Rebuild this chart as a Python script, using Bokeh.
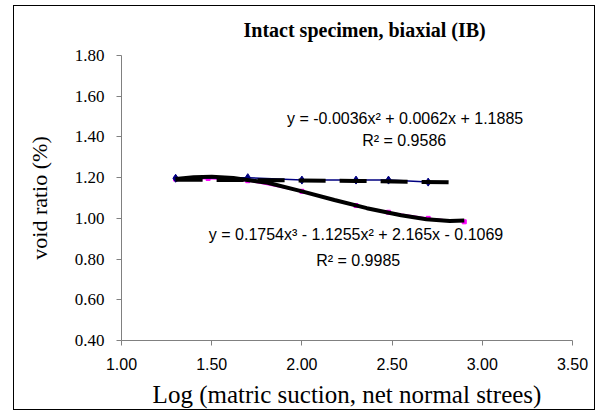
import math
from bokeh.plotting import figure
from bokeh.models import Range1d, FixedTicker, NumeralTickFormatter, Label
from bokeh.embed import file_html
from bokeh.resources import INLINE

# ---- data ----
x_ticks = [1.00, 1.50, 2.00, 2.50, 3.00, 3.50]
y_ticks = [0.40, 0.60, 0.80, 1.00, 1.20, 1.40, 1.60, 1.80]

ib_biaxial_x = [1.30, 1.70, 2.00, 2.30, 2.48, 2.70]
ib_biaxial_y = [1.197, 1.200, 1.188, 1.188, 1.188, 1.178]

trend_quad_x = [1.30, 1.70, 2.00, 2.30, 2.60, 2.88]
trend_quad_y = [1.190, 1.188, 1.186, 1.184, 1.180, 1.176]

ib_second_x = [1.30, 1.48, 1.70, 2.00, 2.30, 2.48, 2.70, 2.90]
ib_second_y = [1.193, 1.196, 1.185, 1.133, 1.063, 1.030, 1.000, 0.983]

trend_cubic_x = [1.30, 1.40, 1.50, 1.62, 1.81, 1.99, 2.18, 2.36, 2.55, 2.69, 2.82, 2.90]
trend_cubic_y = [1.193, 1.202, 1.205, 1.198, 1.175, 1.135, 1.090, 1.050, 1.015, 0.996, 0.987, 0.990]

title_text = "Intact specimen, biaxial (IB)"
eq1_text = "y = -0.0036x² + 0.0062x + 1.1885"
r1_text = "R² = 0.9586"
eq2_text = "y = 0.1754x³ - 1.1255x² + 2.165x - 0.1069"
r2_text = "R² = 0.9985"
x_title = "Log (matric suction, net normal strees)"
y_title = "void ratio (%)"

p = figure(width=582, height=405, output_backend="svg", toolbar_location=None,
           x_range=Range1d(1.0, 3.5), y_range=Range1d(0.4, 1.8),
           min_border_left=107, min_border_right=24, min_border_top=49, min_border_bottom=71,
           margin=(5, 0, 0, 13),
           styles={"border": "1px solid black"})
p.outline_line_color = None
p.grid.grid_line_color = None
p.background_fill_color = "white"
p.border_fill_color = "white"

p.title.text = title_text
p.title.align = "left"
p.title.offset = 122
p.title.vertical_align = "top"
p.title.text_font = "Liberation Serif"
p.title.text_font_size = "20px"
p.title.text_font_style = "bold"
p.title.text_color = "black"
p.title.standoff = 25

xax = p.xaxis[0]
yax = p.yaxis[0]
for ax in (xax, yax):
    ax.axis_line_color = "#808080"
    ax.major_tick_line_color = "#808080"
    ax.minor_tick_line_color = None
    ax.major_tick_in = 0
    ax.major_tick_out = 5
    ax.formatter = NumeralTickFormatter(format="0.00")
    ax.major_label_text_color = "black"
    ax.axis_label_text_font = "Liberation Serif"
    ax.axis_label_text_font_style = "normal"
    ax.axis_label_text_color = "black"

xax.ticker = FixedTicker(ticks=x_ticks)
yax.ticker = FixedTicker(ticks=y_ticks)
xax.major_label_text_font = "Liberation Sans"
xax.major_label_text_font_size = "16px"
xax.major_label_standoff = 12
yax.major_label_text_font = "Liberation Serif"
yax.major_label_text_font_size = "17px"
yax.major_label_standoff = 12

xax.axis_label = x_title
xax.axis_label_text_font_size = "25px"
xax.axis_label_standoff = 8
yax.axis_label = y_title
yax.axis_label_text_font_size = "22px"
yax.axis_label_standoff = 20

# series
p.line(ib_second_x, ib_second_y, line_color="#FF00FF", line_width=1.5)
p.scatter(ib_second_x, ib_second_y, marker="square", size=4, color="#FF00FF")
p.line(ib_biaxial_x, ib_biaxial_y, line_color="#000080", line_width=1.5)
p.scatter(ib_biaxial_x, ib_biaxial_y, marker="diamond", size=8, color="#000080")
p.line(trend_quad_x, trend_quad_y, line_color="black", line_width=4, line_dash="27 14")
p.line(trend_cubic_x, trend_cubic_y, line_color="black", line_width=4)

def lab(x, y, text, size):
    p.add_layout(Label(x=x, y=y, text=text, text_font="Liberation Sans", text_font_size=size,
                       text_align="center", text_baseline="middle", text_color="black"))

lab(2.572, 1.491, eq1_text, "16px")
lab(2.567, 1.383, r1_text, "16px")
lab(2.30, 0.921, eq2_text, "16px")
lab(2.312, 0.793, r2_text, "16px")

open("out.html", "w").write(file_html(p, INLINE))
